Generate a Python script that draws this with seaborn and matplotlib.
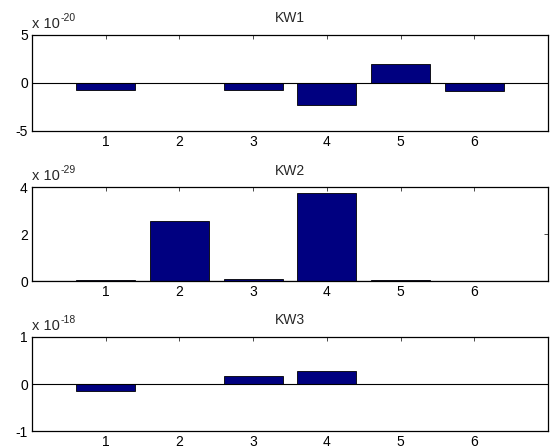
import numpy as np
import pandas as pd
import matplotlib
matplotlib.use("Agg")
import matplotlib.pyplot as plt
import seaborn as sns

# bar positions and mantissas (per-panel power of ten)
positions = [1, 2, 3, 4, 5, 6]
kw1 = [-0.70, 0.01, -0.70, -2.25, 2.00, -0.87]   # x 10^-20
kw2 = [0.03, 2.54, 0.09, 3.76, 0.03, 0.01]       # x 10^-29
kw3 = [-0.155, 0.003, 0.165, 0.287, 0.003, 0.003]  # x 10^-18
titles = ["KW1", "KW2", "KW3"]
exponents = [-20, -29, -18]
ylims = [(-5, 5), (0, 4), (-1, 1)]
yticks = [[-5, 0, 5], [0, 2, 4], [-1, 0, 1]]

sns.set_style("white")
plt.rcParams["font.family"] = ["Liberation Sans", "DejaVu Sans"]

fig = plt.figure(figsize=(5.55, 4.48), dpi=100)
W, H = 555, 448
panel_px = [(35, 131), (187, 281), (337, 431)]
left, right = 32, 548
fs = 10

for vals, title, exp, ylim, yt, (top, bot) in zip(
        [kw1, kw2, kw3], titles, exponents, ylims, yticks, panel_px):
    ax = fig.add_axes([left / W, 1 - bot / H, (right - left) / W, (bot - top) / H])
    df = pd.DataFrame({"x": positions, "y": vals})
    sns.barplot(data=df, x="x", y="y", native_scale=True, color="#000080",
                saturation=1, width=0.8, edgecolor="black", linewidth=0.6,
                errorbar=None, ax=ax)
    ax.axhline(0, color="black", lw=0.8, zorder=3)
    ax.set_xlim(0, 7)
    ax.set_ylim(*ylim)
    ax.set_xticks(positions)
    ax.set_xticklabels([str(p) for p in positions])
    ax.set_yticks(yt)
    ax.set_yticklabels([str(t) for t in yt])
    ax.set_xlabel("")
    ax.set_ylabel("")
    ax.tick_params(direction="in", length=3, width=0.5, top=True, right=True,
                   labelsize=fs, pad=3, colors="black")
    for s in ax.spines.values():
        s.set_linewidth(0.9)
        s.set_color("black")
    ax.set_title(title, fontsize=fs, pad=9)
    ax.text(0.0, 1.04, "x 10", transform=ax.transAxes,
            fontsize=10.5, ha="left", va="bottom")
    ax.text(0.056, 1.13, str(exp), transform=ax.transAxes,
            fontsize=7.5, ha="left", va="bottom")

fig.savefig("out.png", dpi=100)
